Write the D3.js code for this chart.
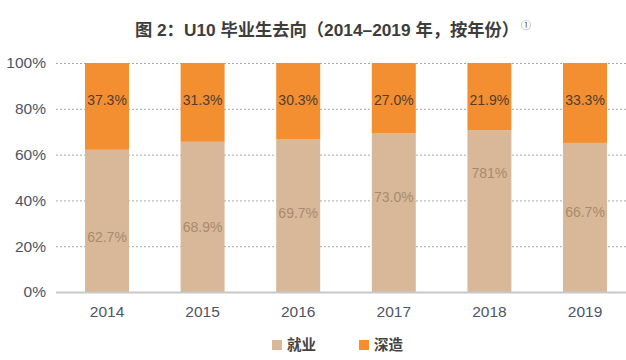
<!DOCTYPE html>
<html>
<head>
<meta charset="utf-8">
<script src="https://cdn.jsdelivr.net/npm/d3@7/dist/d3.min.js"></script>
<style>
  html, body { margin: 0; padding: 0; background: #fff; }
  svg { display: block; }
</style>
</head>
<body>
<svg id="chart" width="626" height="360"></svg>
<script>
// ---- data ----
const years = ["2014", "2015", "2016", "2017", "2018", "2019"];
// bar heights as drawn in the picture (percent)
const employValues = [62.1, 65.6, 66.8, 69.4, 70.7, 65.1];
const studyValues = employValues.map(v => +(100 - v).toFixed(1));
// label texts as printed
const employLabels = ["62.7%", "68.9%", "69.7%", "73.0%", "781%", "66.7%"];
const studyLabels = ["37.3%", "31.3%", "30.3%", "27.0%", "21.9%", "33.3%"];
const yTicks = [0, 20, 40, 60, 80, 100];
const seriesNames = ["就业", "深造"];

// ---- layout ----
const W = 626, H = 360;
const colors = { employ: "#d8b898", study: "#f38e31" };
// label anchor levels (in y units) for the employment labels, as placed in the picture
const employLabelLevel = [24.0, 28.4, 34.5, 41.5, 52.0, 34.9];
const studyLabelLevel = 83.8;

const svg = d3.select("#chart");
const y = d3.scaleLinear().domain([0, 100]).range([292, 63]);
const x = d3.scaleBand().domain(years).range([59.2, 632.8]).paddingInner(0.54).paddingOuter(0.27);

// title
svg.append("text")
  .attr("x", 327).attr("y", 36)
  .attr("text-anchor", "middle")
  .attr("font-family", "'Liberation Sans', 'Noto Sans CJK SC', sans-serif")
  .attr("font-size", 17.3).attr("font-weight", "bold")
  .attr("fill", "#3d3d3d")
  .text("图 2：U10 毕业生去向（2014–2019 年，按年份）");
svg.append("text")
  .attr("x", 526).attr("y", 29)
  .attr("text-anchor", "middle")
  .attr("font-family", "'Noto Sans CJK SC', sans-serif")
  .attr("font-size", 10)
  .attr("fill", "#555")
  .text("①");

// gridlines
const grid = svg.append("g").attr("transform", "translate(56,0)")
  .call(d3.axisLeft(y).tickValues(yTicks.filter(d => d > 0)).tickSize(-570).tickFormat(""));
grid.select(".domain").remove();
grid.selectAll("line").attr("stroke", "#a8a8a8").attr("stroke-width", 1).attr("stroke-dasharray", "2,2");

// y axis labels
const ya = svg.append("g").attr("transform", "translate(46,0)")
  .call(d3.axisLeft(y).tickValues(yTicks).tickSize(0).tickPadding(0).tickFormat(d => d + "%"));
ya.select(".domain").remove();
ya.selectAll("text")
  .attr("font-family", "'Liberation Sans', Arial, sans-serif")
  .attr("font-size", 15.5).attr("fill", "#4d5566");

// bars
const g = svg.append("g");
g.selectAll("rect.employ").data(years).join("rect")
  .attr("class", "employ")
  .attr("x", d => x(d)).attr("width", x.bandwidth())
  .attr("y", (d, i) => y(employValues[i]))
  .attr("height", (d, i) => y(0) - y(employValues[i]))
  .attr("fill", colors.employ);
g.selectAll("rect.study").data(years).join("rect")
  .attr("class", "study")
  .attr("x", d => x(d)).attr("width", x.bandwidth())
  .attr("y", (d, i) => y(employValues[i] + studyValues[i]))
  .attr("height", (d, i) => y(employValues[i]) - y(employValues[i] + studyValues[i]))
  .attr("fill", colors.study);

// baseline
svg.append("line")
  .attr("x1", 56).attr("x2", 626)
  .attr("y1", y(0) + 0.5).attr("y2", y(0) + 0.5)
  .attr("stroke", "#c8c8c8").attr("stroke-width", 2);

// value labels
g.selectAll("text.slab").data(years).join("text")
  .attr("class", "slab")
  .attr("x", d => x(d) + x.bandwidth() / 2)
  .attr("y", y(studyLabelLevel))
  .attr("dy", "0.35em")
  .attr("text-anchor", "middle")
  .attr("font-family", "'Liberation Sans', Arial, sans-serif")
  .attr("font-size", 14).attr("fill", "#4f3f33")
  .text((d, i) => studyLabels[i]);
g.selectAll("text.elab").data(years).join("text")
  .attr("class", "elab")
  .attr("x", d => x(d) + x.bandwidth() / 2)
  .attr("y", (d, i) => y(employLabelLevel[i]))
  .attr("dy", "0.35em")
  .attr("text-anchor", "middle")
  .attr("font-family", "'Liberation Sans', Arial, sans-serif")
  .attr("font-size", 14).attr("fill", "#a88b6d")
  .text((d, i) => employLabels[i]);

// x axis labels
const xa = svg.append("g").attr("transform", `translate(0,${y(0)})`)
  .call(d3.axisBottom(x).tickSize(0).tickPadding(14));
xa.select(".domain").remove();
xa.selectAll("text")
  .attr("font-family", "'Liberation Sans', Arial, sans-serif")
  .attr("font-size", 15.5).attr("fill", "#4d5566");

// legend
const legend = svg.append("g").attr("transform", "translate(272,340)");
const legendColors = [colors.employ, colors.study];
const legendX = [0, 87];
seriesNames.forEach((name, i) => {
  legend.append("rect").attr("x", legendX[i]).attr("y", 0).attr("width", 10).attr("height", 10).attr("fill", legendColors[i]);
  legend.append("text").attr("x", legendX[i] + 15).attr("y", 5).attr("dy", "0.36em")
    .attr("font-family", "'Noto Sans CJK SC', sans-serif")
    .attr("font-size", 14.5).attr("font-weight", "bold").attr("fill", "#444")
    .text(name);
});
</script>
</body>
</html>
